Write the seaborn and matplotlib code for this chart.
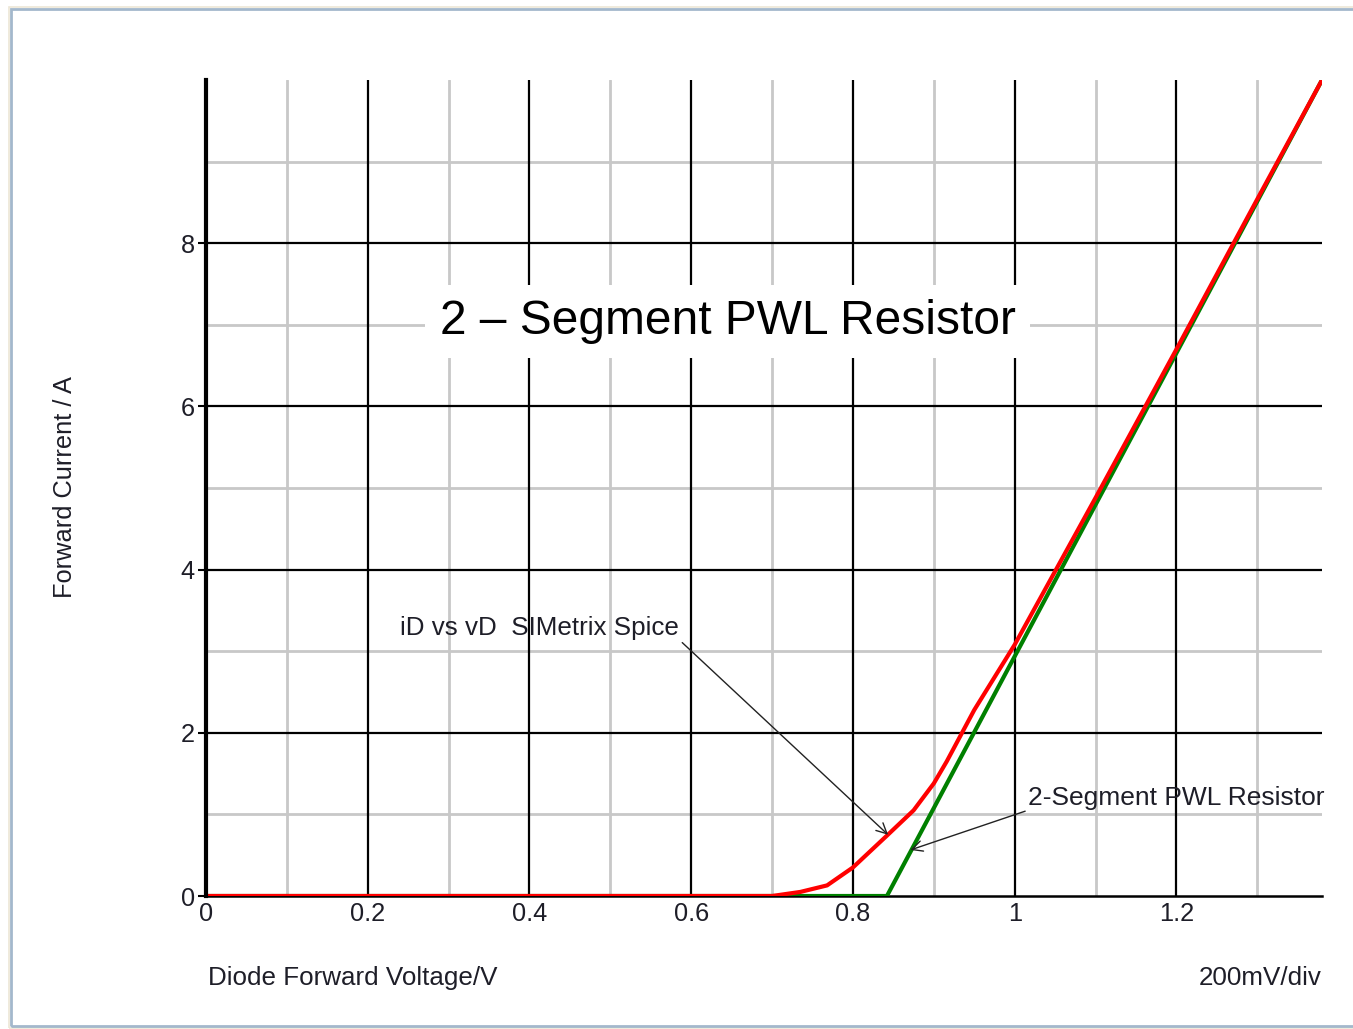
import matplotlib
matplotlib.use("Agg")
import matplotlib.pyplot as plt
import seaborn as sns
import pandas as pd
from matplotlib.patches import Rectangle

# ---- data ----
spice_v = [0.0, 0.70, 0.735, 0.768, 0.80, 0.842, 0.875, 0.90, 0.916, 0.95, 1.0, 1.1, 1.2, 1.3, 1.38]
spice_i = [0.0, 0.0, 0.05, 0.13, 0.35, 0.74, 1.05, 1.38, 1.65, 2.28, 3.08, 4.88, 6.70, 8.54, 10.0]
pwl_v = [0.0, 0.842, 1.38]
pwl_i = [0.0, 0.0, 10.0]

x_ticks = [0, 0.2, 0.4, 0.6, 0.8, 1.0, 1.2]
x_tick_labels = ["0", "0.2", "0.4", "0.6", "0.8", "1", "1.2"]
y_ticks = [0, 2, 4, 6, 8]
y_tick_labels = ["0", "2", "4", "6", "8"]

title_text = "2 \u2013 Segment PWL Resistor"
spice_label = "iD vs vD  SIMetrix Spice"
pwl_label = "2-Segment PWL Resistor"
x_label = "Diode Forward Voltage/V"
y_label = "Forward Current / A"
scale_label = "200mV/div"

sns.set_theme(style="white")
plt.rcParams["font.family"] = ["Liberation Sans", "DejaVu Sans"]

W, H = 1353, 1029
fig = plt.figure(figsize=(W / 100, H / 100), dpi=100)
ax = fig.add_axes([206 / W, 1 - 896 / H, (1322 - 206) / W, (896 - 80) / H])
ax.set_facecolor("white")

# grid
minor_x = [0.1, 0.3, 0.5, 0.7, 0.9, 1.1, 1.3]
minor_y = [1, 3, 5, 7, 9]
for xv in minor_x:
    ax.axvline(xv, color="#c8c8c8", lw=2, zorder=1)
for yv in minor_y:
    ax.axhline(yv, color="#c8c8c8", lw=2, zorder=1)
for xv in x_ticks[1:]:
    ax.axvline(xv, color="black", lw=1.6, zorder=1.2)
for yv in y_ticks[1:]:
    ax.axhline(yv, color="black", lw=1.6, zorder=1.2)

df_pwl = pd.DataFrame({"v": pwl_v, "i": pwl_i})
df_spice = pd.DataFrame({"v": spice_v, "i": spice_i})
sns.lineplot(data=df_pwl, x="v", y="i", ax=ax, color="#008000", lw=3,
             sort=False, estimator=None, zorder=3)
sns.lineplot(data=df_spice, x="v", y="i", ax=ax, color="#ff0000", lw=3,
             sort=False, estimator=None, zorder=4)

ax.set_xlim(0, 1.38)
ax.set_ylim(0, 10)
ax.set_xticks(x_ticks)
ax.set_xticklabels(x_tick_labels)
ax.set_yticks(y_ticks)
ax.set_yticklabels(y_tick_labels)
ax.tick_params(axis="x", length=0, pad=4, labelsize=18.3, colors="#1e1e28")
ax.tick_params(axis="y", length=6, width=1.5, color="black", pad=2, labelsize=18.3,
               labelcolor="#1e1e28", left=True)
ax.set_xlabel("")
ax.set_ylabel("")
for s in ["top", "right"]:
    ax.spines[s].set_visible(False)
ax.spines["left"].set_color("black")
ax.spines["left"].set_linewidth(3)
ax.spines["bottom"].set_color("black")
ax.spines["bottom"].set_linewidth(1.8)
ax.spines["left"].set_zorder(5)
ax.spines["bottom"].set_zorder(2)

# title inside plot with white box
ax.text(0.645, 7.04, title_text, fontsize=34.5, ha="center", va="center", color="black",
        bbox=dict(boxstyle="square,pad=0.3", facecolor="white", edgecolor="none"), zorder=6)

# annotations
ax.annotate(spice_label, xy=(0.8435, 0.75), xytext=(0.24, 3.29),
            fontsize=18.7, color="#1e1e28", ha="left", va="center",
            arrowprops=dict(arrowstyle="->", color="#222222", lw=1,
                            shrinkA=0, shrinkB=0, relpos=(1.0, 0.0)), zorder=7)
ax.annotate(pwl_label, xy=(0.871, 0.564), xytext=(1.017, 1.20),
            fontsize=19, color="#1e1e28", ha="left", va="center",
            arrowprops=dict(arrowstyle="->", color="#222222", lw=1,
                            shrinkA=0, shrinkB=0, relpos=(0.0, 0.0)), zorder=7,
            annotation_clip=False)

# figure texts
fig.text(208 / W, 1 - 978 / H, x_label, fontsize=18.7, ha="left", va="center", color="#1e1e28")
fig.text(1322 / W, 1 - 978 / H, scale_label, fontsize=18.7, ha="right", va="center", color="#1e1e28")
fig.text(65 / W, 1 - 487 / H, y_label, fontsize=18.3, rotation=90, ha="center", va="center",
         color="#1e1e28")

# outer frame
fig.patches.append(Rectangle((9 / W, 1 - 1028 / H), 1.02, (1028 - 7) / H,
                             transform=fig.transFigure, fill=False,
                             edgecolor="#ece6d6", lw=1.2, zorder=0))
fig.patches.append(Rectangle((11 / W, 1 - 1026 / H), 1.02, (1026 - 9) / H,
                             transform=fig.transFigure, fill=False,
                             edgecolor="#a3b8cc", lw=2, zorder=0))

fig.savefig("out.png", dpi=100, facecolor="white")
